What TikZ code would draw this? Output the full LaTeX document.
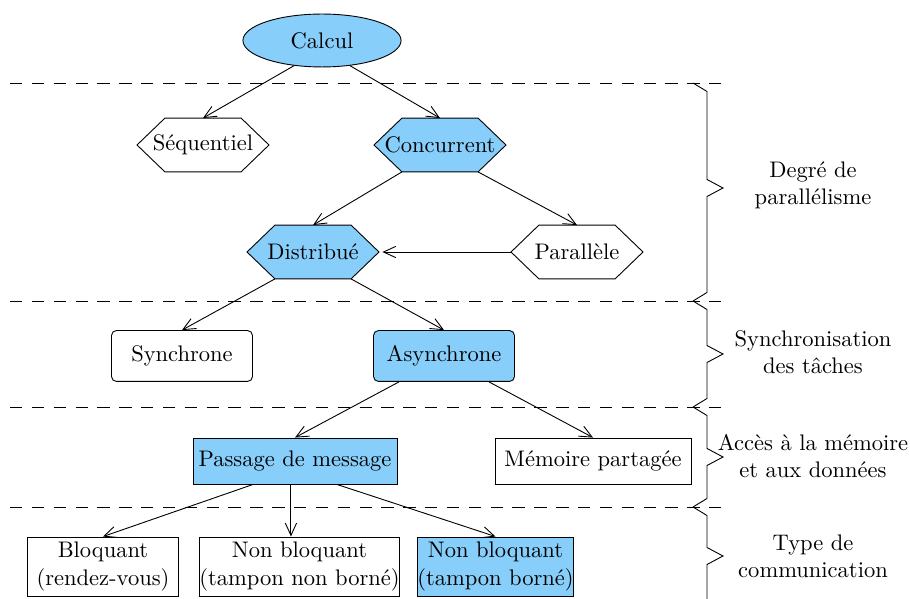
\documentclass[tikz,border=0pt]{standalone}
\usepackage{fontspec}
\usetikzlibrary{arrows.meta,calc,shapes.geometric,backgrounds}
\definecolor{skyfill}{RGB}{135,206,250}
\newcommand\hexshape[2]{\filldraw[fill=#2] (#1.west) -- ([xshift=12.4pt]#1.north west) -- ([xshift=-12.4pt]#1.north east) -- (#1.east) -- ([xshift=-12.4pt]#1.south east) -- ([xshift=12.4pt]#1.south west) -- cycle;}
\begin{document}
\begin{tikzpicture}[x=0.444pt,y=-0.444pt,
  arr/.style={-{Straight Barb[length=5.5pt,width=5pt]}},
  sepline/.style={dash pattern=on 5.5pt off 4.2pt},
  hexnode/.style={minimum width=58.2pt,minimum height=23.5pt,inner sep=0pt},
  rbox/.style={draw,rounded corners=2.2pt,minimum width=62.6pt,minimum height=22.6pt,inner sep=1pt},
  sbox/.style={draw,minimum height=20.4pt,inner xsep=2pt,inner ysep=1pt},
  tbox/.style={draw,align=center,minimum height=26.2pt,inner xsep=0pt,inner ysep=1pt},
  lbl/.style={align=center,inner sep=0pt},
  hl/.style={fill=skyfill}]
\useasboundingbox (0,0) rectangle (910,599);

% separators
\foreach \yy in {83,301,407,507} \draw[sepline] (10,\yy) -- (728,\yy);

% nodes
\node[draw,ellipse,hl,minimum width=70.2pt,minimum height=23.5pt,inner sep=0pt] (calc) at (322,40.5) {Calcul};
\node[hexnode] (seq)  at (203,145) {Séquentiel};
\node[hexnode] (conc) at (440,145) {Concurrent};
\node[hexnode] (dist) at (313,252) {Distribué};
\node[hexnode] (par)  at (577,252) {Parallèle};
\begin{scope}[on background layer]
\hexshape{seq}{white}
\hexshape{conc}{skyfill}
\hexshape{dist}{skyfill}
\hexshape{par}{white}
\end{scope}
\node[rbox] (sync)  at (182,356) {Synchrone};
\node[rbox,hl] (async) at (444,356) {Asynchrone};
\node[sbox,hl,minimum width=90.6pt] (pass) at (295,461) {Passage de message};
\node[sbox,minimum width=87pt] (mem) at (593,461) {Mémoire partagée};
\node[tbox,minimum width=67pt] (bl)  at (103,566.5) {Bloquant\\(rendez-vous)};
\node[tbox] (nb1) at (299.5,566.5) {Non bloquant\\(tampon non borné)};
\node[tbox,hl,minimum width=67pt] (nb2) at (495.5,566.5) {Non bloquant\\(tampon borné)};

% connectors
\draw[arr] (calc.-138) -- (seq.north);
\draw[arr] (calc.-42) -- (conc.north);
\draw[arr] ([xshift=12.4pt]conc.south west) -- (dist.north);
\draw[arr] ([xshift=-12.4pt]conc.south east) -- (par.north);
\draw[arr] (par.west) -- ([xshift=1.5pt]dist.east);
\draw[arr] ([xshift=12.4pt]dist.south west) -- (sync.north);
\draw[arr] ([xshift=-12.4pt]dist.south east) -- (async.north);
\draw[arr] ([xshift=11.5pt]async.south west) -- (pass.north);
\draw[arr] ([xshift=-11.5pt]async.south east) -- (mem.north);
\draw[arr] ([xshift=-18.6pt]pass.south) -- (bl.north);
\coordinate (p2) at ([xshift=-1.8pt]pass.south);
\draw[arr] (p2) -- (p2 |- nb1.north);
\draw[arr] ([xshift=18.6pt]pass.south) -- (nb2.north);

% braces
\draw (693,83) -- (707,91.5) -- (707,179.5) -- (723,188) -- (707,196.5) -- (707,292.5) -- (693,301);
\draw (693,301) -- (707,309.5) -- (707,345.5) -- (723,354) -- (707,362.5) -- (707,398.5) -- (693,407);
\draw (693,407) -- (707,415.5) -- (707,448.5) -- (723,457) -- (707,465.5) -- (707,498.5) -- (693,507);
\draw (693,507) -- (707,515.5) -- (707,547.5) -- (723,556) -- (707,564.5) -- (707,599);

% labels
\node[lbl] (l1) at (813,185) {Degré de\\parallélisme};
\node[lbl] (l2) at (813,352) {Synchronisation\\des tâches};
\node[lbl] (l3) at (813,456) {Accès à la mémoire\\et aux données};
\node[lbl] (l4) at (813,556) {Type de\\communication};
\end{tikzpicture}
\end{document}
